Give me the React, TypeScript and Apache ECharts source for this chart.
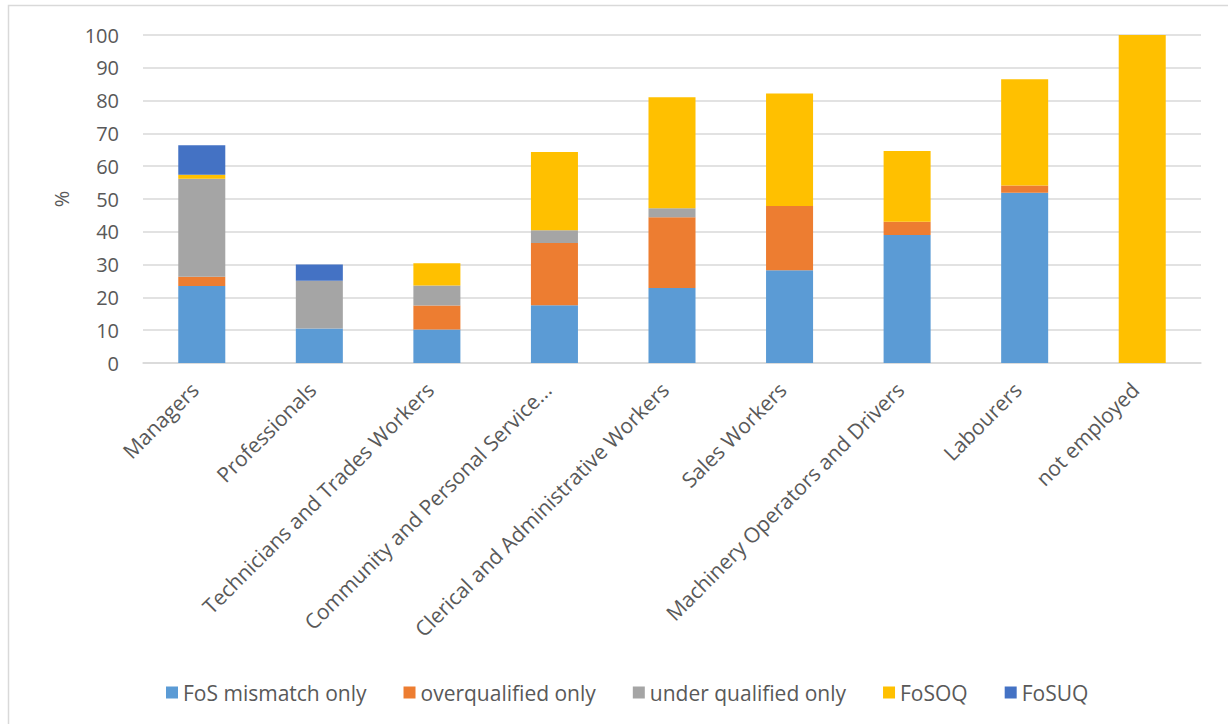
import React, { useEffect, useRef } from "react";
import * as echarts from "echarts";

const categories = [
  "Managers",
  "Professionals",
  "Technicians and Trades Workers",
  "Community and Personal Service...",
  "Clerical and Administrative Workers",
  "Sales Workers",
  "Machinery Operators and Drivers",
  "Labourers",
  "not employed",
];

const fosMismatchOnly = [23.5, 10.5, 10.2, 17.6, 22.9, 28.3, 39.0, 51.9, 0];
const overqualifiedOnly = [2.8, 0, 7.3, 19.0, 21.5, 19.6, 4.1, 2.2, 0];
const underQualifiedOnly = [29.9, 14.6, 6.1, 3.9, 2.8, 0, 0, 0, 0];
const fosoq = [1.2, 0, 6.8, 23.8, 33.8, 34.3, 21.5, 32.4, 100];
const fosuq = [9.0, 4.9, 0, 0, 0, 0, 0, 0, 0];

const yTicks = { min: 0, max: 100, interval: 10 };

const seriesDefs = [
  { name: "FoS mismatch only", data: fosMismatchOnly, color: "#5B9BD5" },
  { name: "overqualified only", data: overqualifiedOnly, color: "#ED7D31" },
  { name: "under qualified only", data: underQualifiedOnly, color: "#A5A5A5" },
  { name: "FoSOQ", data: fosoq, color: "#FFC000" },
  { name: "FoSUQ", data: fosuq, color: "#4472C4" },
];

const FONT = "'Open Sans', sans-serif";
const TEXT = "#595959";

export default function App() {
  const ref = useRef<HTMLDivElement>(null);

  useEffect(() => {
    if (!ref.current) return;
    const chart = echarts.init(ref.current, null, { renderer: "svg" });
    chart.setOption({
      animation: false,
      backgroundColor: "#ffffff",
      textStyle: { fontFamily: FONT },
      graphic: [
        {
          type: "rect",
          shape: { x: 8.5, y: 5.5, width: 1400, height: 900 },
          style: { fill: "none", stroke: "#d9d9d9", lineWidth: 1.5 },
          silent: true,
        },
      ],
      grid: { left: 143, right: 27, top: 35, bottom: 361, containLabel: false },
      legend: {
        top: 677,
        left: 161,
        icon: "rect",
        itemWidth: 12,
        itemHeight: 12,
        itemGap: 37,
        textStyle: { color: TEXT, fontSize: 21, fontFamily: FONT },
        data: seriesDefs.map((s) => s.name),
      },
      xAxis: {
        type: "category",
        data: categories,
        axisLine: { lineStyle: { color: "#d9d9d9", width: 1.5 } },
        axisTick: { show: false },
        axisLabel: {
          rotate: 45,
          interval: 0,
          color: TEXT,
          fontSize: 21,
          fontFamily: FONT,
          margin: 16,
          padding: [0, 10, 0, 0],
        },
      },
      yAxis: {
        type: "value",
        min: yTicks.min,
        max: yTicks.max,
        interval: yTicks.interval,
        name: "%",
        nameLocation: "middle",
        nameGap: 72,
        nameRotate: 90,
        nameTextStyle: { color: TEXT, fontSize: 20, fontFamily: FONT },
        axisLine: { show: false },
        axisTick: { show: false },
        axisLabel: { color: TEXT, fontSize: 20, fontFamily: FONT, margin: 24 },
        splitLine: { lineStyle: { color: "#d9d9d9", width: 1.5 } },
      },
      series: seriesDefs.map((s) => ({
        name: s.name,
        type: "bar",
        stack: "total",
        barWidth: "40%",
        data: s.data,
        itemStyle: { color: s.color },
      })),
    });
    return () => chart.dispose();
  }, []);

  return (
    <div
      ref={ref}
      style={{ position: "fixed", left: 0, top: 0, width: 1228, height: 724 }}
    />
  );
}
